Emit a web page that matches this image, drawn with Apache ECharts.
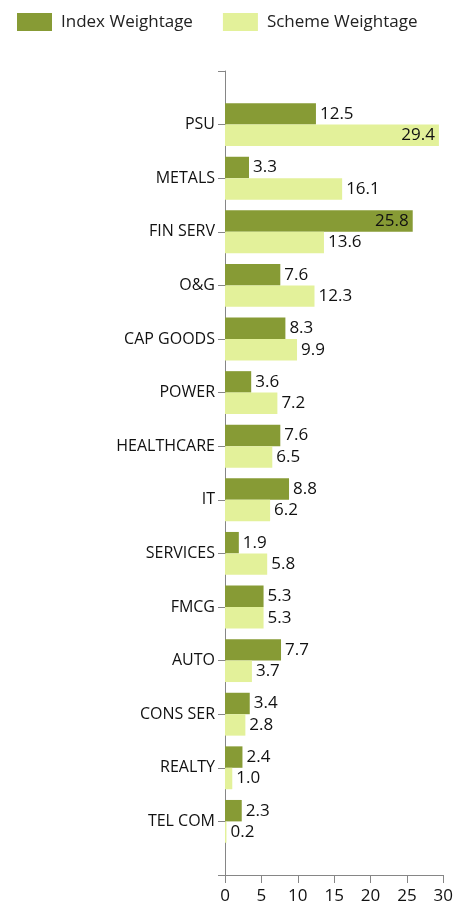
<!DOCTYPE html>
<html><head><meta charset="utf-8">
<script src="https://cdn.jsdelivr.net/npm/echarts@6/dist/echarts.min.js"></script>
<style>html,body{margin:0;padding:0;background:#fff}#c{width:456px;height:906px}</style>
</head><body><div id="c"></div>
<script>
const categories = ['PSU','METALS','FIN SERV','O&G','CAP GOODS','POWER','HEALTHCARE','IT','SERVICES','FMCG','AUTO','CONS SER','REALTY','TEL COM'];
const indexWeightage = [12.5,3.3,25.8,7.6,8.3,3.6,7.6,8.8,1.9,5.3,7.7,3.4,2.4,2.3];
const schemeWeightage = [29.4,16.1,13.6,12.3,9.9,7.2,6.5,6.2,5.8,5.3,3.7,2.8,1.0,0.2];
const xTicks = [0,5,10,15,20,25,30];

const FONT = '"Open Sans", "Noto Sans", sans-serif';
const cats = [''].concat(categories).concat(['']);
function mk(vals){
  return [null].concat(vals.map(v => ({
    value: v,
    label: { position: v > 24 ? 'insideRight' : 'right' }
  }))).concat([null]);
}
const chart = echarts.init(document.getElementById('c'));
chart.setOption({
  animation: false,
  legend: {
    left: 17, top: 13, padding: 0, itemWidth: 35, itemHeight: 18, itemGap: 30,
    textStyle: { fontFamily: FONT, fontSize: 17, color: '#222', padding: [0,0,0,4] },
    icon: 'rect',
    data: ['Index Weightage','Scheme Weightage']
  },
  grid: { left: 225, right: 9, top: 71, bottom: 31, containLabel: false },
  xAxis: {
    type: 'value', min: xTicks[0], max: xTicks[xTicks.length-1], interval: 5,
    axisLine: { show: true, lineStyle: { color: '#868686' } },
    axisTick: { show: true, length: 8, lineStyle: { color: '#868686' } },
    splitLine: { show: false },
    axisLabel: { fontFamily: FONT, fontSize: 17, color: '#111', margin: 13 }
  },
  yAxis: {
    type: 'category', data: cats, inverse: true, boundaryGap: false,
    axisLine: { lineStyle: { color: '#868686' } },
    axisTick: { show: true, length: 7, lineStyle: { color: '#868686' } },
    axisLabel: { fontFamily: FONT, fontSize: 16, color: '#111', margin: 10 }
  },
  series: [
    { name: 'Index Weightage', type: 'bar', data: mk(indexWeightage),
      itemStyle: { color: '#879B35' }, barGap: '0%', barCategoryGap: '20%',
      label: { show: true, fontFamily: FONT, fontSize: 17, color: '#111', distance: 4,
        formatter: p => p.value.toFixed(1) } },
    { name: 'Scheme Weightage', type: 'bar', data: mk(schemeWeightage),
      itemStyle: { color: '#E3F19A' }, barGap: '0%', barCategoryGap: '20%',
      label: { show: true, fontFamily: FONT, fontSize: 17, color: '#111', distance: 4,
        formatter: p => p.value.toFixed(1) } }
  ]
});
</script></body></html>
